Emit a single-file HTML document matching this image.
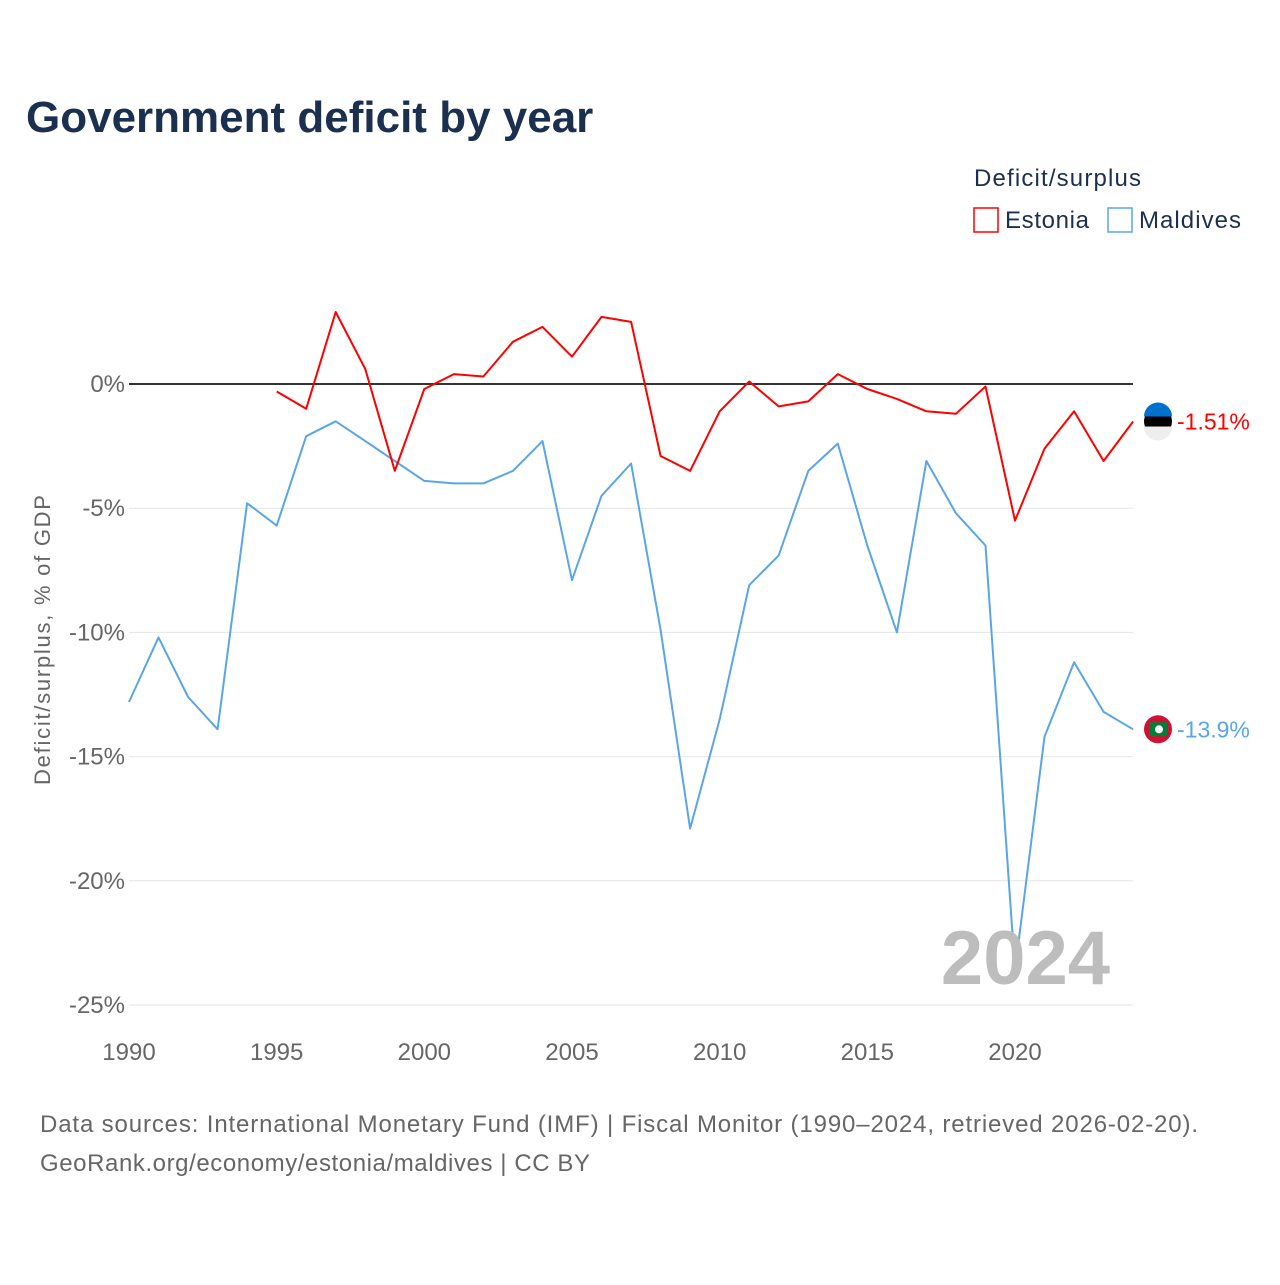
<!DOCTYPE html>
<html><head><meta charset="utf-8"><style>
body{margin:0;background:#fff;font-family:"Liberation Sans",sans-serif;}
svg text{font-family:"Liberation Sans",sans-serif;}
</style></head><body>
<svg id="chart" width="1280" height="1280" viewBox="0 0 1280 1280">
<text x="26" y="132" font-size="44" font-weight="bold" fill="#1b2f4e">Government deficit by year</text>
<text x="974" y="186" font-size="24" fill="#1b2f4e" textLength="167">Deficit/surplus</text>
<g><rect x="974" y="208" width="24" height="24" fill="none" stroke="#ff0000" stroke-width="1.5"/><text x="1005" y="228" font-size="24" fill="#1b2f4e" textLength="84">Estonia</text></g>
<g><rect x="1108" y="208" width="24" height="24" fill="none" stroke="#5aa5e8" stroke-width="1.5"/><text x="1139" y="228" font-size="24" fill="#1b2f4e" textLength="102">Maldives</text></g>
<text transform="translate(50,640) rotate(-90)" text-anchor="middle" font-size="22" fill="#666" textLength="290">Deficit/surplus, % of GDP</text>
<g id="grid"></g><g id="series"></g>
<text x="1110" y="984" text-anchor="end" font-size="76" font-weight="bold" fill="#bdbdbd">2024</text>
<text x="40" y="1132" font-size="24" fill="#666" textLength="1158">Data sources: International Monetary Fund (IMF) | Fiscal Monitor (1990–2024, retrieved 2026-02-20).</text>
<text x="40" y="1171" font-size="24" fill="#666" textLength="550">GeoRank.org/economy/estonia/maldives | CC BY</text>
</svg>
<script>
const estYears=[1995,1996,1997,1998,1999,2000,2001,2002,2003,2004,2005,2006,2007,2008,2009,2010,2011,2012,2013,2014,2015,2016,2017,2018,2019,2020,2021,2022,2023,2024];
const estValues=[-0.3,-1.0,2.9,0.6,-3.5,-0.2,0.4,0.3,1.7,2.3,1.1,2.7,2.5,-2.9,-3.5,-1.1,0.1,-0.9,-0.7,0.4,-0.2,-0.6,-1.1,-1.2,-0.1,-5.5,-2.6,-1.1,-3.1,-1.51];
const malYears=[1990,1991,1992,1993,1994,1995,1996,1997,1998,1999,2000,2001,2002,2003,2004,2005,2006,2007,2008,2009,2010,2011,2012,2013,2014,2015,2016,2017,2018,2019,2020,2021,2022,2023,2024];
const malValues=[-12.8,-10.2,-12.6,-13.9,-4.8,-5.7,-2.1,-1.5,-2.3,-3.1,-3.9,-4.0,-4.0,-3.5,-2.3,-7.9,-4.5,-3.2,-9.9,-17.9,-13.5,-8.1,-6.9,-3.5,-2.4,-6.5,-10.0,-3.1,-5.2,-6.5,-23.6,-14.2,-11.2,-13.2,-13.9];
const yTicks=[0,-5,-10,-15,-20,-25];
const xTicks=[1990,1995,2000,2005,2010,2015,2020];
const NS='http://www.w3.org/2000/svg';
const xs=y=>129+(y-1990)*(886/30);
const ys=v=>384-v*24.84;
function mk(t,a,p){const e=document.createElementNS(NS,t);for(const k in a)e.setAttribute(k,a[k]);p.appendChild(e);return e;}
const grid=document.getElementById('grid'),ser=document.getElementById('series');
yTicks.forEach(v=>{
 const l=mk('line',{x1:129,x2:1133,y1:ys(v),y2:ys(v),stroke:v===0?'#333':'#e6e6e6','stroke-width':v===0?2:1},grid);
 
 
 const t=mk('text',{x:125,y:ys(v)+8,'text-anchor':'end','font-size':24,fill:'#666'},grid);
 t.textContent=v+'%';
 
 
});
xTicks.forEach(y=>{
 const t=mk('text',{x:xs(y),y:1060,'text-anchor':'middle','font-size':24,fill:'#666'},grid);
 t.textContent=y;
 
 
});
function line(years,vals,col,name,label){
 const d=years.map((y,i)=>(i?'L':'M')+xs(y).toFixed(1)+','+ys(vals[i]).toFixed(1)).join('');
 const p=mk('path',{d:d,fill:'none',stroke:col,'stroke-width':2,'stroke-linejoin':'round'},ser);
 
 
 const ly=ys(vals[vals.length-1]);
 const c=mk('circle',{cx:1158,cy:ly,r:14,fill:name==='estonia'?'#000':'#d21034'},ser);
 
 
 if(name==='estonia'){mk('path',{d:`M1144,${ly-5}A14,14 0 0 1 1172,${ly-5}Z`,fill:'#0072ce'},ser);mk('path',{d:`M1144,${ly+5}A14,14 0 0 0 1172,${ly+5}Z`,fill:'#eee'},ser);}
 else{mk('rect',{x:1149,y:ly-7,width:18,height:14,fill:'#007e3a'},ser);mk('circle',{cx:1159,cy:ly,r:4,fill:'#fff'},ser);}
 const t=mk('text',{x:1177,y:ly+8,'font-size':23,fill:col},ser);
 t.textContent=label;
 
 
}
line(malYears,malValues,'#5aa5e8','maldives','-13.9%');
line(estYears,estValues,'#ff0000','estonia','-1.51%');
</script>
</body></html>
